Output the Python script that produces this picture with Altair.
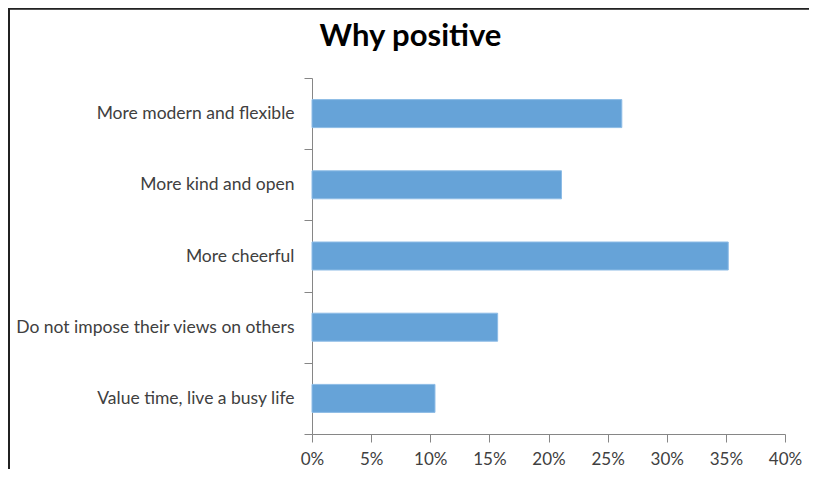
import altair as alt
import pandas as pd

categories = [
    "More modern and flexible",
    "More kind and open",
    "More cheerful",
    "Do not impose their views on others",
    "Value time, live a busy life",
]
values = [0.262, 0.211, 0.352, 0.157, 0.104]
x_ticks = [0, 0.05, 0.10, 0.15, 0.20, 0.25, 0.30, 0.35, 0.40]

df = pd.DataFrame({"category": categories, "value": values})

FONT = "Lato"

bars = alt.Chart(df).mark_bar(
    color="#66A3D8", stroke="#8DBCE6", strokeWidth=1, size=28
).encode(
    x=alt.X(
        "value:Q",
        scale=alt.Scale(domain=[0, 0.4], nice=False),
        axis=alt.Axis(
            values=x_ticks, format=".0%", title=None, grid=False,
            domainColor="#868686", tickColor="#868686", tickSize=8,
            labelFont=FONT, labelFontSize=17, labelColor="#404040",
            labelPadding=9, labelFlush=False,
        ),
    ),
    y=alt.Y(
        "category:N",
        sort=categories,
        scale=alt.Scale(paddingInner=0, paddingOuter=0),
        axis=alt.Axis(
            title=None, tickBand="extent", domainColor="#868686",
            tickColor="#868686", tickSize=8,
            labelFont=FONT, labelFontSize=17.5, labelColor="#404040",
            labelPadding=10, labelLimit=400,
        ),
    ),
)

border = alt.Chart(df).mark_rect(
    fill=None, stroke="#222222", strokeWidth=1.5, clip=False
).encode(
    x=alt.value(-303), x2=alt.value(560),
    y=alt.value(-69.5), y2=alt.value(460),
)

chart = alt.layer(border, bars).properties(
    width=473,
    height=356,
    title=alt.TitleParams(
        "Why positive", font=FONT, fontSize=31, fontWeight="bold",
        color="#000000", anchor="middle", dx=-138, offset=0, dy=45,
    ),
    autosize=alt.AutoSizeParams(type="none"),
    padding={"left": 304, "top": 70, "right": 24, "bottom": 35},
).configure(background="white").configure_view(stroke=None)

chart.save("out.html", embed_options={"renderer": "svg", "actions": False})
